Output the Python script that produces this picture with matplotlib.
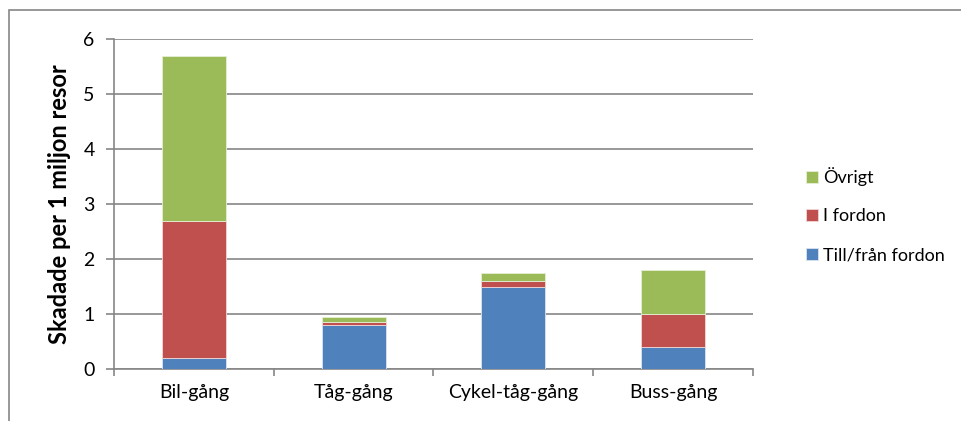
import numpy as np
from matplotlib import pyplot as plt
from matplotlib.patches import Rectangle

categories = ["Bil-gång", "Tåg-gång", "Cykel-tåg-gång", "Buss-gång"]
till_fran = [0.2, 0.8, 1.5, 0.4]
i_fordon = [2.5, 0.05, 0.1, 0.6]
ovrigt = [3.0, 0.1, 0.15, 0.8]

plt.rcParams['font.family'] = ['Lato', 'DejaVu Sans']

fig = plt.figure(figsize=(9.62, 4.21), dpi=100)
ax = fig.add_axes([114 / 962, 52 / 421, 639 / 962, 330 / 421])

x = np.arange(len(categories))
grid_col = "#868686"
w = 0.4
b1 = ax.bar(x, till_fran, w, color="#4F81BD", edgecolor="#dbe4f0", linewidth=0.6, label="Till/från fordon", zorder=3)
bottom2 = np.array(till_fran)
b2 = ax.bar(x, i_fordon, w, bottom=bottom2, color="#C0504D", edgecolor="#f0d8d8", linewidth=0.6, label="I fordon", zorder=3)
bottom3 = bottom2 + np.array(i_fordon)
b3 = ax.bar(x, ovrigt, w, bottom=bottom3, color="#9BBB59", edgecolor="#e6eed6", linewidth=0.6, label="Övrigt", zorder=3)

ax.set_xlim(-0.5, len(categories) - 0.5)
ax.set_ylim(0, 6)
ax.set_yticks(range(0, 7))
ax.yaxis.grid(True, color=grid_col, linewidth=1.2, zorder=0)
ax.set_xticks(x)
ax.set_xticklabels(categories, fontsize=14)
ax.set_xticks(np.arange(-0.5, len(categories)), minor=True)
ax.tick_params(axis='x', which='major', length=0, pad=11)
ax.tick_params(axis='x', which='minor', length=5, width=1.2, color=grid_col, direction='out')
ax.tick_params(axis='y', length=6, width=1.2, color=grid_col, labelsize=14, pad=8)
for s in ["top", "right"]:
    ax.spines[s].set_visible(False)
for s in ["left", "bottom"]:
    ax.spines[s].set_color(grid_col)
    ax.spines[s].set_linewidth(1.2)

ax.set_ylabel("Skadade per 1 miljon resor", fontsize=17, fontweight="bold", labelpad=9)

leg = fig.legend(handles=[b3, b2, b1], loc="center left",
                 bbox_to_anchor=(790 / 962, 206 / 421), frameon=False,
                 fontsize=13, handlelength=0.65, handleheight=0.65,
                 handletextpad=0.3, labelspacing=1.25)

fig.patches.append(Rectangle((9 / 962, -0.05), 1.0, 1.05 - 10 / 421,
                             transform=fig.transFigure, fill=False,
                             edgecolor=grid_col, linewidth=1.2))

fig.savefig("out.png", dpi=100)
